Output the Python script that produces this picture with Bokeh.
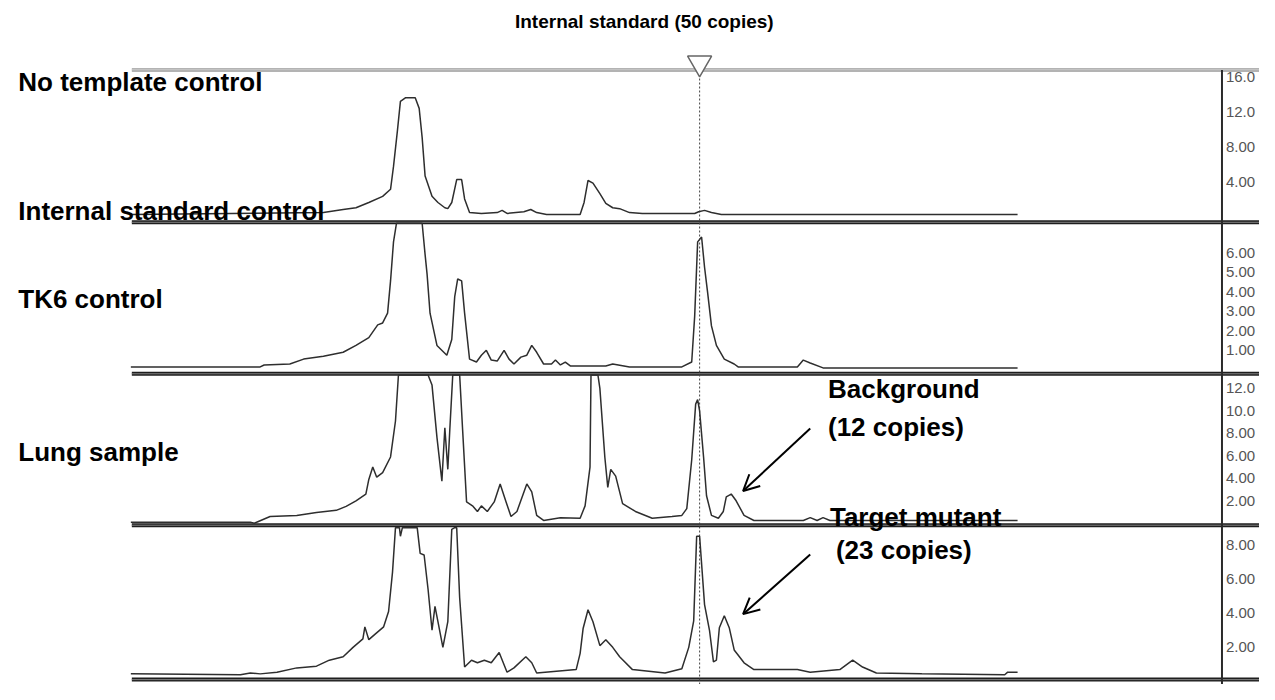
import numpy as np
from bokeh.plotting import figure
from bokeh.models import Range1d, Arrow, OpenHead
from bokeh.core.properties import value
from bokeh.embed import file_html
from bokeh.resources import INLINE

# ---------------- data (retention time in arbitrary units, signal in panel units) -------------
ntc_time = [0.0, 19.5, 21.5, 22.8, 24.1, 25.5, 26.3, 26.6, 27.0, 27.3, 27.8, 28.8, 29.2, 29.5, 29.8,
            30.5, 31.1, 31.8, 32.1, 32.5, 33.0, 33.5, 33.8, 34.3, 35.5, 37.1, 37.6, 38.1, 39.8, 40.5,
            41.1, 42.1, 45.5, 45.9, 46.3, 46.8, 47.5, 48.1, 48.8, 49.5, 50.5, 51.8, 57.1, 57.5, 58.1,
            58.8, 59.8, 89.8]
ntc_signal = [0.33, 0.55, 0.9, 1.1, 1.7, 2.4, 3.2, 5.8, 9.9, 13.2, 13.6, 13.6, 12.4, 9.1, 4.7,
              2.4, 1.7, 1.1, 1.0, 1.7, 4.3, 4.3, 2.1, 0.55, 0.45, 0.55, 0.8, 0.45, 0.65, 0.9,
              0.55, 0.33, 0.33, 1.7, 4.2, 3.9, 2.7, 1.6, 1.1, 1.0, 0.55, 0.45, 0.45, 0.65, 0.8,
              0.55, 0.33, 0.33]

isc_time = [0.0, 13.1, 13.5, 16.1, 17.5, 19.5, 21.5, 22.8, 24.1, 25.0, 25.5, 26.0, 26.3, 26.6, 26.9,
            28.2, 29.5, 29.8, 30.0, 30.3, 31.0, 32.0, 32.5, 32.8, 33.1, 33.5, 33.8, 34.3, 35.0, 35.5,
            36.0, 36.5, 37.1, 37.8, 38.3, 38.8, 39.5, 40.1, 40.6, 41.1, 41.8, 42.6, 43.0, 43.5, 44.0,
            44.5, 48.1, 48.8, 50.5, 55.8, 56.8, 57.1, 57.4, 57.8, 58.1, 58.4, 58.8, 59.3, 60.1, 61.1,
            61.5, 67.5, 68.1, 68.8, 70.1, 89.8]
isc_signal = [0.15, 0.15, 0.25, 0.3, 0.55, 0.7, 0.9, 1.25, 1.65, 2.3, 2.4, 2.9, 4.55, 6.55, 8.9,
              12.0, 8.0, 5.9, 4.9, 2.9, 1.25, 0.75, 1.55, 3.75, 4.65, 4.55, 2.9, 0.55, 0.4, 0.75,
              1.0, 0.5, 0.45, 1.0, 0.55, 0.3, 0.65, 0.75, 1.25, 0.9, 0.3, 0.3, 0.5, 0.25, 0.4,
              0.2, 0.2, 0.3, 0.15, 0.15, 0.4, 2.75, 6.55, 6.8, 5.25, 4.0, 2.25, 1.25, 0.55, 0.3,
              0.15, 0.15, 0.5, 0.35, 0.1, 0.1]

tk6_time = [0.0, 12.1, 12.5, 14.1, 16.8, 18.8, 20.8, 21.8, 22.8, 23.8, 24.1, 24.5, 24.9, 25.5, 26.3,
            26.8, 27.1, 28.5, 30.1, 30.5, 31.0, 31.5, 31.8, 32.1, 32.3, 32.6, 33.0, 33.3, 33.6, 34.0,
            34.6, 35.1, 35.5, 36.1, 36.8, 37.4, 38.0, 38.5, 39.1, 40.1, 40.6, 41.1, 41.8, 43.5, 45.5,
            46.0, 46.5, 46.6, 47.0, 47.3, 47.5, 48.0, 48.3, 48.6, 49.1, 49.8, 51.1, 52.8, 54.8, 55.8,
            56.3, 56.8, 57.2, 57.4, 57.6, 58.0, 58.3, 58.8, 59.5, 60.0, 60.3, 60.8, 61.3, 62.1, 63.1,
            68.1, 68.8, 69.5, 70.1, 70.8, 89.8]
tk6_signal = [0.1, 0.1, 0.0, 0.6, 0.7, 0.95, 1.15, 1.5, 2.0, 2.6, 3.9, 5.0, 4.1, 4.5, 5.9,
              9.1, 13.5, 22.0, 13.5, 12.3, 7.65, 3.75, 8.5, 4.8, 8.3, 13.5, 18.0, 13.5, 8.3, 1.9,
              1.55, 1.05, 1.55, 1.05, 1.9, 3.5, 1.9, 0.6, 1.05, 3.5, 2.8, 0.7, 0.25, 0.5, 0.45,
              1.55, 5.0, 13.5, 20.0, 13.5, 12.0, 5.9, 3.2, 4.8, 4.2, 1.75, 1.05, 0.45, 0.6, 0.7,
              1.3, 5.65, 10.6, 11.0, 10.0, 5.9, 2.45, 0.7, 0.45, 1.05, 2.35, 2.6, 2.0, 0.7, 0.25,
              0.25, 0.5, 0.25, 0.5, 0.25, 0.25]

lung_time = [0.0, 11.1, 12.1, 13.1, 14.8, 16.8, 18.8, 20.1, 21.5, 22.5, 23.5, 23.7, 24.1, 24.8, 25.6,
             26.1, 26.5, 26.8, 27.2, 27.3, 27.5, 28.0, 29.0, 29.3, 29.7, 30.1, 30.5, 30.8, 31.1, 31.6,
             32.1, 32.5, 32.8, 33.0, 33.3, 33.8, 34.5, 35.1, 35.8, 36.5, 37.3, 38.1, 38.8, 40.0, 40.6,
             41.1, 45.1, 45.5, 45.8, 46.3, 46.8, 47.5, 48.1, 48.8, 49.5, 50.8, 54.1, 55.8, 56.5, 57.0,
             57.3, 57.6, 58.1, 58.6, 59.0, 59.3, 59.6, 60.1, 60.6, 61.1, 62.1, 63.1, 67.5, 68.8, 71.8,
             73.1, 74.1, 75.5, 80.1, 88.5, 88.8, 89.8]
lung_signal = [0.45, 0.4, 0.5, 0.45, 0.55, 0.8, 0.9, 1.25, 1.45, 2.0, 2.5, 3.2, 2.45, 2.8, 3.2,
               4.1, 6.4, 11.0, 10.0, 8.5, 10.0, 14.0, 12.0, 7.5, 7.4, 5.4, 3.0, 4.4, 3.5, 2.0,
               3.5, 8.9, 14.0, 9.5, 4.9, 0.85, 1.25, 1.1, 1.25, 1.1, 1.7, 0.55, 0.8, 1.45, 1.1,
               0.5, 0.7, 1.65, 3.1, 4.2, 3.5, 2.1, 2.45, 2.0, 1.45, 0.7, 0.5, 0.75, 2.0, 3.55,
               8.5, 8.5, 4.5, 3.0, 1.15, 1.25, 3.15, 3.85, 3.15, 1.85, 1.1, 0.7, 0.7, 0.55, 0.7,
               1.25, 0.85, 0.5, 0.45, 0.4, 0.55, 0.55]

internal_standard_time = 57.6

ntc_ticks = [16, 12, 8, 4]
isc_ticks = [6, 5, 4, 3, 2, 1]
tk6_ticks = [12, 10, 8, 6, 4, 2]
lung_ticks = [8, 6, 4, 2]
ntc_tick_labels = ["16.0", "12.0", "8.00", "4.00"]
isc_tick_labels = ["6.00", "5.00", "4.00", "3.00", "2.00", "1.00"]
tk6_tick_labels = ["12.0", "10.0", "8.00", "6.00", "4.00", "2.00"]
lung_tick_labels = ["8.00", "6.00", "4.00", "2.00"]

# ---------------- layout of the stacked panels (base, scale, top value) ----------------
panels = [
    dict(t=ntc_time, s=ntc_signal, ticks=ntc_ticks, labels=ntc_tick_labels, base=478, scale=9.0, top=16.8),
    dict(t=isc_time, s=isc_signal, ticks=isc_ticks, labels=isc_tick_labels, base=322, scale=20.0, top=7.5),
    dict(t=tk6_time, s=tk6_signal, ticks=tk6_ticks, labels=tk6_tick_labels, base=165, scale=11.5, top=13.2),
    dict(t=lung_time, s=lung_signal, ticks=lung_ticks, labels=lung_tick_labels, base=3, scale=17.5, top=9.0),
]

FONT = value("Liberation Sans")

p = figure(width=1259, height=684, x_range=Range1d(-13.2, 114.3), y_range=Range1d(0, 700),
           output_backend="svg", toolbar_location=None, min_border=0)
p.axis.visible = False
p.xgrid.visible = False
p.ygrid.visible = False
p.outline_line_color = None

X0, X1, XAX = 0.1, 114.3, 110.5

# panel separator lines
p.segment(x0=[X0], y0=[629], x1=[X1], y1=[629], line_color="#9a9a9a", line_width=3.5)
p.segment(x0=[X0], y0=[629], x1=[X1], y1=[629], line_color="#dcdcdc", line_width=1)
for ys in [473, 318, 163, 5]:
    p.segment(x0=[X0], y0=[ys], x1=[X1], y1=[ys], line_color="#1e1e1e", line_width=4)
    p.segment(x0=[X0], y0=[ys], x1=[X1], y1=[ys], line_color="#808080", line_width=1)

# right-hand value axis line
p.segment(x0=[XAX], y0=[0], x1=[XAX], y1=[629], line_color="#2a2a2a", line_width=2)

# internal standard marker
p.segment(x0=[internal_standard_time], y0=[0], x1=[internal_standard_time], y1=[624],
          line_color="#444444", line_width=1, line_dash="2 2")
p.scatter(x=[internal_standard_time], y=[636], marker="inverted_triangle", size=24,
          fill_color="white", line_color="#666666", line_width=1.5)

# traces and tick labels
for pn in panels:
    sig = np.minimum(np.array(pn["s"], dtype=float), pn["top"])
    y = pn["base"] + sig * pn["scale"]
    p.line(pn["t"], y, line_color="#2e2e2e", line_width=1.5)
    ty = [pn["base"] + v * pn["scale"] for v in pn["ticks"]]
    p.text(x=[XAX + 0.4] * len(ty), y=ty, text=pn["labels"], text_font=FONT,
           text_font_size="15px", text_color="#555555", text_baseline="middle", text_align="left")

# texts
def label(x, y, txt, size="26px", align="left"):
    p.text(x=[x], y=[y], text=[txt], text_font=FONT, text_font_style="bold",
           text_font_size=size, text_color="black", text_baseline="middle", text_align=align)

label(52.0, 678, "Internal standard (50 copies)", size="19px", align="center")
label(-11.4, 617, "No template control")
label(-11.4, 485, "Internal standard control")
label(-11.4, 395, "TK6 control")
label(-11.4, 238, "Lung sample")
label(70.6, 302, "Background")
label(70.6, 264, "(12 copies)")
label(70.8, 171, "Target mutant")
label(71.4, 138, "(23 copies)")

# arrows
for (xs, ys, xe, ye) in [(68.8, 262, 62.0, 198), (68.8, 133, 62.0, 72)]:
    p.add_layout(Arrow(end=OpenHead(size=16, line_width=2, line_color="black"),
                       x_start=xs, y_start=ys, x_end=xe, y_end=ye,
                       line_width=2, line_color="black"))

open("out.html", "w").write(file_html(p, INLINE))
